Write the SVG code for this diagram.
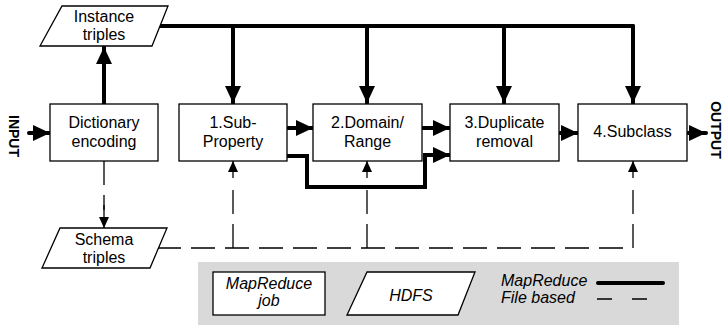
<svg xmlns="http://www.w3.org/2000/svg" width="723" height="325" viewBox="0 0 723 325">
<style>
  .box { fill: #fff; stroke: #000; stroke-width: 1.3; }
  .t { font-family: "Liberation Sans", Arial, sans-serif; font-size: 16px; fill: #000; text-anchor: middle; }
  .it { font-style: italic; }
  .side { font-family: "Liberation Sans", Arial, sans-serif; font-size: 14px; font-weight: bold; fill: #000; text-anchor: middle; }
  .thick { fill: none; stroke: #000; stroke-width: 4; stroke-linecap: round; stroke-linejoin: miter; }
  .dash { fill: none; stroke: #000; stroke-width: 1.3; stroke-dasharray: 24 10; }
  .thin { fill: none; stroke: #000; stroke-width: 1.3; }
</style>
<defs>
  <marker id="big" markerUnits="userSpaceOnUse" markerWidth="18" markerHeight="16" refX="17" refY="8" orient="auto">
    <path d="M0,0 L17,8 L0,16 z" fill="#000"/>
  </marker>
  <marker id="small" markerUnits="userSpaceOnUse" markerWidth="12" markerHeight="10" refX="11" refY="5" orient="auto">
    <path d="M0,0 L11,5 L0,10 z" fill="#000"/>
  </marker>
</defs>

<rect x="198" y="262" width="481" height="63" fill="#d9d9d9"/>

<g id="connectors">
  <path class="thick" d="M157,26 H633"/>
  <path class="thick" d="M233,26 V103" marker-end="url(#big)"/>
  <path class="thick" d="M367,26 V103" marker-end="url(#big)"/>
  <path class="thick" d="M504,26 V103" marker-end="url(#big)"/>
  <path class="thick" d="M633,26 V103" marker-end="url(#big)"/>
  <path class="thick" d="M104,104 V47" marker-end="url(#big)"/>
  <path class="thick" d="M29,133 H50" marker-end="url(#big)"/>
  <path class="thick" d="M288,128 H313" marker-end="url(#big)"/>
  <path class="thick" d="M423,128 H450" marker-end="url(#big)"/>
  <path class="thick" d="M560,133 H578" marker-end="url(#big)"/>
  <path class="thick" d="M688,133 H706" marker-end="url(#big)"/>
  <path class="thick" d="M288,156 H307 V187 H425 V155 H450" marker-end="url(#big)"/>
  <path class="dash" d="M104,161 V210"/>
  <path class="thin" d="M104,205 V228" marker-end="url(#small)"/>
  <path class="dash" d="M157,248 H633 V180"/>
  <path class="thin" d="M633,178 V161" marker-end="url(#small)"/>
  <path class="dash" d="M233,248 V180"/>
  <path class="thin" d="M233,178 V161" marker-end="url(#small)"/>
  <path class="dash" d="M367,248 V180"/>
  <path class="thin" d="M367,178 V161" marker-end="url(#small)"/>
</g>

<g id="instance">
  <polygon class="box" points="62,6 168,6 152,46 40,46"/>
  <text class="t" x="104" y="22">Instance</text>
  <text class="t" x="104" y="40">triples</text>
</g>
<g id="schema">
  <polygon class="box" points="60,228 167,228 150,268 42,268"/>
  <text class="t" x="104" y="245">Schema</text>
  <text class="t" x="104" y="263">triples</text>
</g>
<g id="dict">
  <rect class="box" x="50" y="104" width="108" height="57"/>
  <text class="t" x="104" y="128">Dictionary</text>
  <text class="t" x="104" y="147">encoding</text>
</g>
<g id="sub">
  <rect class="box" x="179" y="104" width="108" height="57"/>
  <text class="t" x="233" y="128">1.Sub-</text>
  <text class="t" x="233" y="147">Property</text>
</g>
<g id="domain">
  <rect class="box" x="313" y="104" width="109" height="57"/>
  <text class="t" x="367.5" y="128">2.Domain/</text>
  <text class="t" x="367.5" y="147">Range</text>
</g>
<g id="dup">
  <rect class="box" x="450" y="104" width="109" height="57"/>
  <text class="t" x="504.5" y="128">3.Duplicate</text>
  <text class="t" x="504.5" y="147">removal</text>
</g>
<g id="subclass">
  <rect class="box" x="578" y="104" width="109" height="57"/>
  <text class="t" x="632.5" y="137">4.Subclass</text>
</g>
<g id="input">
  <text class="side" transform="translate(9,136) rotate(90)" x="0" y="0">INPUT</text>
</g>
<g id="output">
  <text class="side" transform="translate(711,130) rotate(90)" x="0" y="0">OUTPUT</text>
</g>

<g id="legend">
  <rect class="box" x="213" y="272" width="112" height="43"/>
  <text class="t it" x="269" y="289">MapReduce</text>
  <text class="t it" x="269" y="306">job</text>
  <polygon class="box" points="367,272 475,272 458,315 347,315"/>
  <text class="t it" x="411" y="301">HDFS</text>
  <text class="t it" x="501" y="286" style="text-anchor:start">MapReduce</text>
  <text class="t it" x="501" y="303" style="text-anchor:start">File based</text>
  <path class="thick" d="M598,283 H663"/>
  <path class="thin" d="M597,299 H655" style="stroke-dasharray:15 20"/>
</g>
</svg>
